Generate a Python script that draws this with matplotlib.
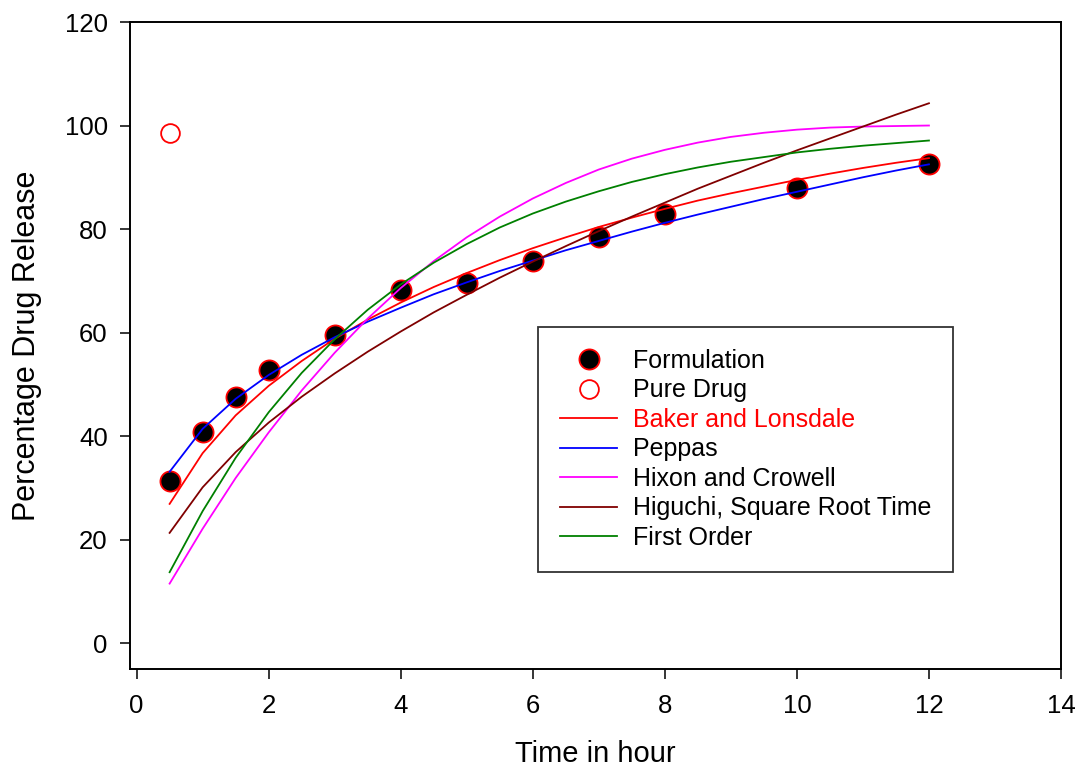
import matplotlib
matplotlib.use("Agg")
import matplotlib.pyplot as plt
from matplotlib.lines import Line2D

plt.rcParams['font.family'] = ['Liberation Sans', 'DejaVu Sans']

# measured release data
t_obs = [0.5, 1, 1.5, 2, 3, 4, 5, 6, 7, 8, 10, 12]
formulation = [31.3, 40.8, 47.5, 52.8, 59.5, 68.2, 69.6, 73.8, 78.5, 82.9, 87.9, 92.6]
t_pure = [0.5]
pure_drug = [98.6]

# fitted model curves
t_fit = [0.5, 1, 1.5, 2, 2.5, 3, 3.5, 4, 4.5, 5, 5.5, 6,
         6.5, 7, 7.5, 8, 8.5, 9, 9.5, 10, 10.5, 11, 11.5, 12]
baker = [26.9, 36.7, 44.0, 49.7, 54.5, 58.8, 62.5, 65.8, 68.8, 71.5, 74.0, 76.3,
         78.4, 80.4, 82.2, 83.9, 85.5, 86.9, 88.2, 89.5, 90.7, 91.8, 92.8, 93.7]
peppas = [33.1, 41.4, 47.2, 51.8, 55.7, 59.1, 62.1, 64.8, 67.4, 69.7, 71.9, 73.9,
          75.9, 77.7, 79.5, 81.2, 82.8, 84.3, 85.8, 87.2, 88.6, 90.0, 91.3, 92.5]
hixon = [11.5, 22.1, 31.9, 40.7, 48.8, 56.1, 62.7, 68.6, 73.8, 78.4, 82.4, 85.9,
         88.9, 91.5, 93.6, 95.3, 96.7, 97.8, 98.6, 99.2, 99.6, 99.8, 99.9, 100.0]
higuchi = [21.3, 30.1, 36.9, 42.6, 47.6, 52.1, 56.3, 60.2, 63.9, 67.3, 70.6, 73.7,
           76.7, 79.6, 82.4, 85.1, 87.8, 90.3, 92.8, 95.2, 97.5, 99.8, 102.1, 104.3]
first_order = [13.7, 25.5, 35.8, 44.6, 52.2, 58.7, 64.4, 69.3, 73.5, 77.1, 80.3, 83.0,
               85.3, 87.3, 89.1, 90.6, 91.9, 93.0, 93.9, 94.8, 95.5, 96.1, 96.6, 97.1]

fig = plt.figure(figsize=(10.76, 7.73), dpi=100)
ax = fig.add_axes([130/1076, 104/773, 931/1076, 647/773])

ax.plot(t_obs, formulation, 'o', ms=14.5, mfc='black', mec='red', mew=1.3, zorder=2)
ax.plot(t_pure, pure_drug, 'o', ms=13.5, mfc='none', mec='red', mew=1.3, zorder=2)

lw = 1.3
ax.plot(t_fit, baker, color='#ff0000', lw=lw, zorder=3)
ax.plot(t_fit, peppas, color='#0000ff', lw=lw, zorder=3)
ax.plot(t_fit, hixon, color='#ff00ff', lw=lw, zorder=3)
ax.plot(t_fit, higuchi, color='#800000', lw=lw, zorder=3)
ax.plot(t_fit, first_order, color='#008000', lw=lw, zorder=3)

ax.set_xlim(-0.1, 14)
ax.set_ylim(-5, 120)
ax.set_xticks(range(0, 15, 2))
ax.set_yticks(range(0, 121, 20))
for s in ax.spines.values():
    s.set_linewidth(1.4)
ax.tick_params(axis='both', direction='out', length=7, width=1.1, labelsize=18.5)
ax.tick_params(axis='x', pad=11)
ax.tick_params(axis='y', pad=9)

ax.set_xlabel('Time in hour', fontsize=21, labelpad=16)
ax.set_ylabel('Percentage Drug Release', fontsize=22, labelpad=16)

handles = [
    Line2D([], [], ls='none', marker='o', ms=14.5, mfc='black', mec='red', mew=1.3),
    Line2D([], [], ls='none', marker='o', ms=13.5, mfc='none', mec='red', mew=1.3),
    Line2D([], [], color='#ff0000', lw=lw),
    Line2D([], [], color='#0000ff', lw=lw),
    Line2D([], [], color='#ff00ff', lw=lw),
    Line2D([], [], color='#800000', lw=lw),
    Line2D([], [], color='#008000', lw=lw),
]
labels = ['Formulation', 'Pure Drug', 'Baker and Lonsdale', 'Peppas',
          'Hixon and Crowell', 'Higuchi, Square Root Time', 'First Order']
leg = ax.legend(handles, labels, loc='upper left', bbox_to_anchor=(0.438, 0.5286),
                borderaxespad=0, fontsize=18, frameon=True, fancybox=False,
                edgecolor='black', handlelength=2.3, handletextpad=0.63,
                borderpad=0.88, labelspacing=0.22)
leg.get_frame().set_linewidth(1.3)
leg.get_texts()[2].set_color('red')

plt.savefig('out.png', dpi=100)
